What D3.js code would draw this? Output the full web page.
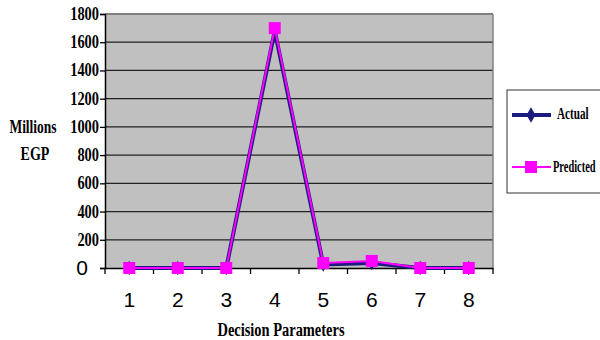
<!DOCTYPE html>
<html><head><meta charset="utf-8">
<script src="https://cdn.jsdelivr.net/npm/d3@7"></script>
<style>body{margin:0;background:#fff}svg{display:block}</style>
</head><body>
<script>
const categories = ["1","2","3","4","5","6","7","8"];
const actual = [0, 0, 0, 1680, 25, 35, 0, 0];
const predicted = [0, 0, 0, 1700, 35, 50, 0, 0];
const yTicks = [0, 200, 400, 600, 800, 1000, 1200, 1400, 1600, 1800];

const W = 600, H = 340;
const m = {left: 105, right: 493, top: 14, bottom: 268};
const SERIF = "'Liberation Serif', 'Times New Roman', serif";
const SANS = "'Liberation Sans', Arial, sans-serif";
const svg = d3.select("body").append("svg").attr("width", W).attr("height", H);

const x = d3.scaleBand().domain(categories).range([m.left, m.right]);
const y = d3.scaleLinear().domain([0, 1800]).range([m.bottom, m.top]);

svg.append("rect").attr("x", m.left).attr("y", m.top)
  .attr("width", m.right - m.left).attr("height", m.bottom - m.top).attr("fill", "#c0c0c0");

svg.append("g").selectAll("line").data(yTicks.filter(d => d > 0 && d < 1800)).join("line")
  .attr("x1", m.left).attr("x2", m.right).attr("y1", d => y(d)).attr("y2", d => y(d))
  .attr("stroke", "#222").attr("stroke-width", 1.3);

svg.append("line").attr("x1", m.left).attr("x2", m.right).attr("y1", m.top).attr("y2", m.top)
  .attr("stroke", "#808080").attr("stroke-width", 2);
svg.append("line").attr("x1", m.right).attr("x2", m.right).attr("y1", m.top).attr("y2", m.bottom)
  .attr("stroke", "#808080").attr("stroke-width", 1.5);

const yAxis = svg.append("g").attr("transform", `translate(${m.left},0)`)
  .call(d3.axisLeft(y).tickValues(yTicks).tickSize(5).tickFormat(""));
yAxis.select(".domain").attr("stroke", "#000").attr("stroke-width", 1.5);
yAxis.selectAll(".tick line").attr("stroke", "#000").attr("stroke-width", 1.3);

yTicks.forEach(v => {
  if (v === 0) {
    svg.append("text").attr("x", 88).attr("y", y(v) + 7).attr("text-anchor", "end")
      .style("font-family", SANS).attr("font-size", 21).attr("fill", "#000").text(String(v));
  } else {
    svg.append("text").attr("transform", `translate(99,${y(v) + 6}) scale(0.8,1)`)
      .attr("text-anchor", "end").style("font-family", SERIF)
      .attr("font-weight", "bold").attr("font-size", 18).attr("fill", "#000").text(String(v));
  }
});

const xAxis = svg.append("g").attr("transform", `translate(0,${m.bottom})`)
  .call(d3.axisBottom(x).tickSize(0).tickFormat(""));
xAxis.select(".domain").attr("stroke", "#000").attr("stroke-width", 1.5);
const bounds = categories.map(c => x(c)).concat([m.right]);
svg.append("g").selectAll("line").data(bounds).join("line")
  .attr("x1", d => d).attr("x2", d => d).attr("y1", m.bottom).attr("y2", m.bottom + 6)
  .attr("stroke", "#000").attr("stroke-width", 1.3);
svg.append("g").selectAll("text").data(categories).join("text")
  .attr("x", d => x(d) + x.bandwidth() / 2).attr("y", 307).attr("text-anchor", "middle")
  .style("font-family", SANS).attr("font-size", 21).attr("fill", "#000").text(d => d);

svg.append("text").attr("transform", "translate(281,336) scale(0.76,1)").attr("text-anchor", "middle")
  .style("font-family", SERIF).attr("font-weight", "bold").attr("font-size", 19)
  .attr("fill", "#000").text("Decision Parameters");
svg.append("text").attr("transform", "translate(33,133) scale(0.75,1)").attr("text-anchor", "middle")
  .style("font-family", SERIF).attr("font-weight", "bold").attr("font-size", 18)
  .attr("fill", "#000").text("Millions");
svg.append("text").attr("transform", "translate(35,160) scale(0.78,1)").attr("text-anchor", "middle")
  .style("font-family", SERIF).attr("font-weight", "bold").attr("font-size", 18)
  .attr("fill", "#000").text("EGP");

const cx = d => x(d) + x.bandwidth() / 2;
const line = d3.line().x((d, i) => cx(categories[i])).y(d => y(d));
svg.append("path").datum(actual).attr("d", line).attr("fill", "none")
  .attr("stroke", "#1c1c80").attr("stroke-width", 4);
svg.append("g").selectAll("path").data(actual).join("path")
  .attr("transform", (d, i) => `translate(${cx(categories[i])},${y(d)})`)
  .attr("d", d3.symbol(d3.symbolDiamond, 60)).attr("fill", "#1c1c80");
svg.append("path").datum(predicted).attr("d", line).attr("fill", "none")
  .attr("stroke", "#ff00ff").attr("stroke-width", 2);
svg.append("g").selectAll("rect").data(predicted).join("rect")
  .attr("x", (d, i) => cx(categories[i]) - 6).attr("y", d => y(d) - 6)
  .attr("width", 12).attr("height", 12).attr("fill", "#ff00ff");

svg.append("rect").attr("x", 507).attr("y", 90).attr("width", 100).attr("height", 103)
  .attr("fill", "#fff").attr("stroke", "#333").attr("stroke-width", 1);
svg.append("line").attr("x1", 512).attr("x2", 551).attr("y1", 115).attr("y2", 115)
  .attr("stroke", "#1c1c80").attr("stroke-width", 4);
svg.append("path").attr("transform", "translate(531,115)")
  .attr("d", d3.symbol(d3.symbolDiamond, 70)).attr("fill", "#1c1c80");
svg.append("text").attr("transform", "translate(557,119) scale(0.7,1)")
  .style("font-family", SERIF).attr("font-weight", "bold").attr("font-size", 16)
  .attr("fill", "#000").text("Actual");
svg.append("line").attr("x1", 512).attr("x2", 551).attr("y1", 167).attr("y2", 167)
  .attr("stroke", "#ff00ff").attr("stroke-width", 2);
svg.append("rect").attr("x", 525).attr("y", 161).attr("width", 12).attr("height", 12).attr("fill", "#ff00ff");
svg.append("text").attr("transform", "translate(553,172) scale(0.65,1)")
  .style("font-family", SERIF).attr("font-weight", "bold").attr("font-size", 16)
  .attr("fill", "#000").text("Predicted");
</script>
</body></html>
